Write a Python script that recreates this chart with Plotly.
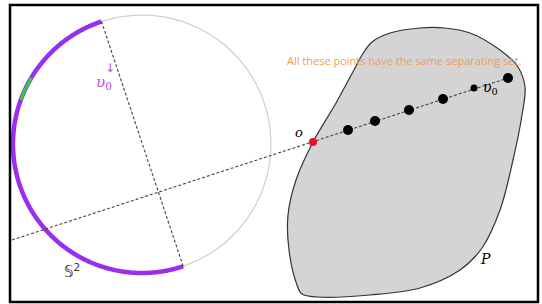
import numpy as np
import plotly.graph_objects as go

# ---- geometry data (pixel-space diagram coordinates, y grows downward) ----
circle_center = [142, 144]
circle_radius = 129
purple_arc_deg = [108.3, 288.6]      # start, end (counter-clockwise)
green_arc_deg = [149, 160]
diameter_deg = [108.3, 288.6]

ray_x = [12, 508]
ray_y = [240, 78]

points_x = [348, 375, 409, 443, 508]
points_y = [130, 121, 110, 99, 78]
v0_point = [474, 88]
o_point = [313, 142]

poly_x = [362, 372, 390, 420, 445, 470, 500, 518, 525, 522, 513, 500, 482, 460, 420, 370, 318,
          302, 297, 289, 288, 296, 313, 336, 355, 362]
poly_y = [55, 42, 33, 28, 28, 33, 50, 67, 87, 115, 160, 210, 248, 270, 288, 295, 297,
          294, 285, 250, 215, 180, 142, 103, 68, 55]

frame = [10, 5, 538, 302]


def arc(a0, a1, n=300):
    t = np.radians(np.linspace(a0, a1, n))
    cx, cy = circle_center
    return cx + circle_radius * np.cos(t), cy - circle_radius * np.sin(t)


fig = go.Figure()

# polygon P
fig.add_trace(go.Scatter(x=poly_x, y=poly_y, mode="lines", fill="toself",
                         fillcolor="#d4d4d4", line=dict(color="#333333", width=1.2, shape="spline", smoothing=1.0),
                         hoverinfo="skip"))

# full circle (light gray)
cxs, cys = arc(0, 360, 400)
fig.add_trace(go.Scatter(x=cxs, y=cys, mode="lines", line=dict(color="#cfcfcf", width=1.2),
                         hoverinfo="skip"))
# purple arc
pxs, pys = arc(*purple_arc_deg)
fig.add_trace(go.Scatter(x=pxs, y=pys, mode="lines", line=dict(color="#9a2ef0", width=4.5, shape="spline"),
                         hoverinfo="skip"))
# green arc
gxs, gys = arc(*green_arc_deg, n=30)
fig.add_trace(go.Scatter(x=gxs, y=gys, mode="lines", line=dict(color="#2ed12e", width=3),
                         hoverinfo="skip"))

# diameter dashed line
dxs, dys = arc(diameter_deg[0], diameter_deg[0], 1)
dxe, dye = arc(diameter_deg[1], diameter_deg[1], 1)
fig.add_trace(go.Scatter(x=[dxs[0], dxe[0]], y=[dys[0], dye[0]], mode="lines",
                         line=dict(color="#444444", width=1.1, dash="3px,2px"), hoverinfo="skip"))
# ray dashed line
fig.add_trace(go.Scatter(x=ray_x, y=ray_y, mode="lines",
                         line=dict(color="#444444", width=1.1, dash="3px,2px"), hoverinfo="skip"))

# points
fig.add_trace(go.Scatter(x=points_x, y=points_y, mode="markers",
                         marker=dict(color="black", size=10), hoverinfo="skip"))
fig.add_trace(go.Scatter(x=[v0_point[0]], y=[v0_point[1]], mode="markers",
                         marker=dict(color="black", size=7), hoverinfo="skip"))
fig.add_trace(go.Scatter(x=[o_point[0]], y=[o_point[1]], mode="markers",
                         marker=dict(color="#e8102a", size=8), hoverinfo="skip"))

serif = "DejaVu Serif"
anns = [
    dict(x=299, y=132, text="<i>o</i>", font=dict(family=serif, size=13, color="black")),
    dict(x=490, y=88, text="<i>υ</i><sub>0</sub>", font=dict(family=serif, size=14, color="black")),
    dict(x=485, y=259, text="<i>P</i>", font=dict(family=serif, size=14, color="black")),
    dict(x=72, y=271, text="𝕊<sup>2</sup>", font=dict(family="DejaVu Sans", size=15, color="#333333")),
    dict(x=104, y=82, text="<i>υ</i><sub>0</sub>", font=dict(family=serif, size=15, color="#c04ae8")),
    dict(x=110, y=68, text="↓", font=dict(family="DejaVu Sans", size=12, color="#c04ae8")),
    dict(x=404, y=60, text="All these points have the same separating set.",
         font=dict(family="Open Sans", size=11, color="#f59a4f")),
]
for a in anns:
    a.update(xref="x", yref="y", showarrow=False, xanchor="center", yanchor="middle")
fig.update_layout(annotations=anns)

fig.add_shape(type="rect", x0=frame[0], y0=frame[1], x1=frame[2], y1=frame[3],
              xref="x", yref="y", line=dict(color="black", width=2.5))

fig.update_layout(width=542, height=304, margin=dict(l=0, r=0, t=0, b=0),
                  plot_bgcolor="white", paper_bgcolor="white", showlegend=False,
                  xaxis=dict(range=[0, 542], visible=False, fixedrange=True),
                  yaxis=dict(range=[304, 0], visible=False, fixedrange=True))

fig.write_html("out.html", config={"displayModeBar": False},
               post_script="document.body.style.margin='0';document.body.style.overflow='hidden';")
